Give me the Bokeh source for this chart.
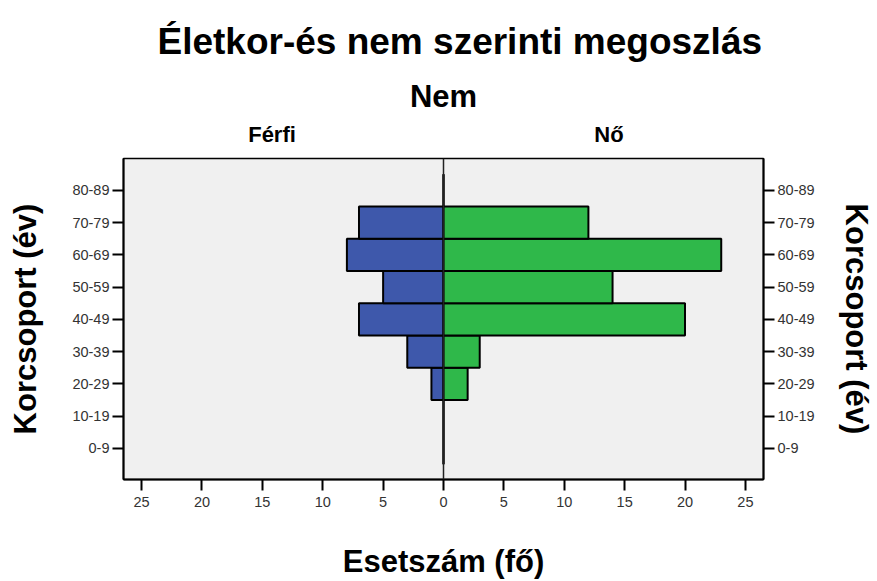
from bokeh.plotting import figure
from bokeh.models import (Range1d, LinearAxis, FixedTicker, Span, ColumnDataSource)
from bokeh.embed import file_html
from bokeh.resources import INLINE

# ---- data ----
age_groups = ["0-9", "10-19", "20-29", "30-39", "40-49", "50-59", "60-69", "70-79", "80-89"]
male = [0, 0, 1, 3, 7, 5, 8, 7, 0]
female = [0, 0, 2, 3, 20, 14, 23, 12, 0]
x_ticks = [-25, -20, -15, -10, -5, 0, 5, 10, 15, 20, 25]
groups = ["Férfi", "Nő"]
group_pos = [-14.2, 13.7]

title_text = "Életkor-és nem szerinti megoszlás"
group_title = "Nem"
y_label = "Korcsoport (év)"
x_label = "Esetszám (fő)"

FONT = "Liberation Sans"
BLUE = "#3e58ab"
GREEN = "#2fb84a"

idx = list(range(len(age_groups)))
src = ColumnDataSource(dict(
    y=idx,
    mleft=[-v for v in male],
    fright=female,
    zero=[0] * len(idx),
))

p = figure(width=877, height=581, output_backend="svg", toolbar_location=None,
           x_range=Range1d(-26.5, 26.5), y_range=Range1d(-0.97, 8.99),
           min_border_left=123, min_border_right=114, min_border_top=158,
           min_border_bottom=101, title=title_text)
p.background_fill_color = "#f0f0f0"
p.border_fill_color = "white"
p.outline_line_color = "black"
p.outline_line_width = 1.5
p.xgrid.visible = False
p.ygrid.visible = False

p.title.text_font = FONT
p.title.text_font_style = "bold"
p.title.text_font_size = "37px"
p.title.align = "left"
p.title.offset = 34
p.title.standoff = 27
p.title.text_color = "black"

p.hbar(y="y", left="mleft", right="zero", height=1.0, source=src,
       fill_color=BLUE, line_color="black", line_width=2)
p.hbar(y="y", left="zero", right="fright", height=1.0, source=src,
       fill_color=GREEN, line_color="black", line_width=2)

p.add_layout(Span(location=0, dimension="height", line_color="#222222", line_width=1.5))


def style_axis(ax):
    ax.axis_line_color = "black"
    ax.axis_line_width = 2
    ax.major_tick_line_color = "black"
    ax.major_tick_line_width = 2
    ax.major_tick_out = 11
    ax.major_tick_in = 0
    ax.major_label_standoff = 3
    ax.minor_tick_line_color = None
    ax.major_label_text_font = FONT
    ax.major_label_text_font_size = "14.5px"
    ax.major_label_text_color = "#333333"
    ax.axis_label_text_font = FONT
    ax.axis_label_text_font_style = "bold"
    ax.axis_label_text_font_size = "31px"
    ax.axis_label_text_color = "black"


overrides = {i: g for i, g in zip(idx, age_groups)}

ya = p.yaxis[0]
ya.ticker = FixedTicker(ticks=idx)
ya.major_label_overrides = overrides
ya.axis_label = y_label
style_axis(ya)
ya.axis_label_standoff = 26

ra = LinearAxis(ticker=FixedTicker(ticks=idx), major_label_overrides=overrides,
                axis_label=y_label)
style_axis(ra)
ra.axis_label_standoff = 21
p.add_layout(ra, "right")

xa = p.xaxis[0]
xa.ticker = FixedTicker(ticks=x_ticks)
xa.major_label_overrides = {t: str(abs(t)) for t in x_ticks}
xa.axis_label = x_label
style_axis(xa)
xa.major_label_standoff = 6
xa.axis_label_standoff = 34

# top axis: group names and "Nem"
ta = LinearAxis(ticker=FixedTicker(ticks=group_pos),
                major_label_overrides={pos: g for pos, g in zip(group_pos, groups)},
                axis_label=group_title)
ta.axis_line_color = None
ta.major_tick_line_color = None
ta.minor_tick_line_color = None
ta.major_tick_out = 0
ta.major_tick_in = 0
ta.major_label_standoff = 12
ta.major_label_text_font = FONT
ta.major_label_text_font_style = "bold"
ta.major_label_text_font_size = "22px"
ta.major_label_text_color = "black"
ta.axis_label_text_font = FONT
ta.axis_label_text_font_style = "bold"
ta.axis_label_text_font_size = "31px"
ta.axis_label_text_color = "black"
ta.axis_label_standoff = 5
p.add_layout(ta, "above")

open("out.html", "w").write(file_html(p, INLINE))
